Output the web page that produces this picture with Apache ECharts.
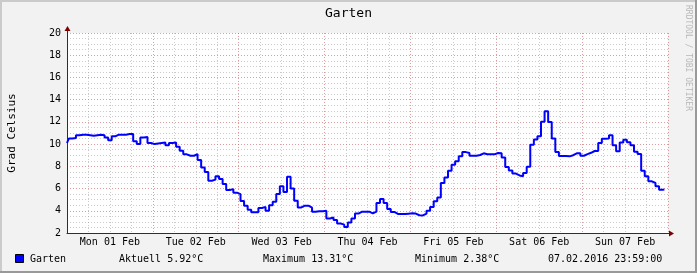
<!DOCTYPE html>
<html><head><meta charset="utf-8">
<script src="https://cdn.jsdelivr.net/npm/echarts@6/dist/echarts.min.js"></script>
<style>html,body{margin:0;padding:0;background:#F2F2F2}#c{width:697px;height:273px}</style>
</head><body><div id="c"></div>
<script>
const chartTitle = 'Garten';
const yAxisTitle = 'Grad Celsius';
const watermark = 'RRDTOOL / TOBI OETIKER';
const dayLabels = ['Mon 01 Feb','Tue 02 Feb','Wed 03 Feb','Thu 04 Feb','Fri 05 Feb','Sat 06 Feb','Sun 07 Feb'];
const seriesName = 'Garten';
const legendTexts = ['Aktuell 5.92°C','Maximum 13.31°C','Minimum 2.38°C'];
const timestampText = '07.02.2016 23:59:00';
const yMin = 2, yMax = 20, yStep = 2;
const hoursTotal = 168, hoursPerDay = 24;
// hourly temperature readings, starting Mon 01 Feb 2016 00:00
const temps = [
 10.1,10.5,10.55,10.8,10.85,10.85,10.8,10.75,10.8,10.85,10.8,10.6,
 10.35,10.7,10.85,10.85,10.85,10.9,10.9,10.25,10.0,10.6,10.65,10.1,
 10.0,10.05,10.1,10.15,9.9,10.1,10.15,9.77,9.4,9.08,8.95,8.95,
 9.1,8.57,7.9,7.5,6.7,6.8,7.1,6.85,6.4,5.87,5.95,5.63,
 5.5,4.88,4.45,4.1,3.86,3.86,4.25,4.35,4.0,4.5,4.82,5.5,
 6.2,5.7,7.07,6.0,4.9,4.3,4.46,4.46,4.28,3.92,3.95,3.95,
 4.0,3.3,3.4,3.17,2.85,2.75,2.55,2.95,3.3,3.75,3.92,3.92,
 3.92,3.77,3.92,4.7,5.06,4.7,4.15,3.9,3.72,3.71,3.71,3.74,
 3.77,3.75,3.6,3.58,3.75,4.0,4.35,4.85,5.2,6.5,7.0,7.6,
 8.15,8.45,8.9,9.28,9.2,8.96,8.96,9.02,9.17,9.08,9.08,9.08,
 9.2,9.17,8.8,7.95,7.62,7.35,7.18,7.1,7.4,7.97,9.95,10.42,
 10.7,12.02,12.95,12.0,10.5,9.3,8.93,8.93,8.9,9.0,9.17,9.17,
 8.95,9.1,9.22,9.38,9.38,10.1,10.48,10.5,10.8,9.9,9.35,10.15,
 10.4,10.16,9.9,9.32,9.1,7.6,7.1,6.65,6.5,6.2,5.9,5.92
];

const FONT = 'DejaVu Sans Mono';
const chart = echarts.init(document.getElementById('c'), null, {renderer:'canvas'});
const dotted = (c)=>({color:c, width:1, type:[1,2]});
const option = {
  backgroundColor:'#F2F2F2',
  animation:false,
  grid:{left:67,right:29,top:33,bottom:40,show:true,backgroundColor:'#FFFFFF',borderWidth:0},
  xAxis:[{
    type:'value',min:0,max:hoursTotal,interval:hoursPerDay,
    axisLine:{show:true,onZero:false,lineStyle:{color:'#3a2a2a',width:1}},
    axisTick:{show:false},
    axisLabel:{show:false},
    splitLine:{show:true,lineStyle:dotted('rgba(200,90,90,0.6)')},
    minorTick:{show:false,splitNumber:4},
    minorSplitLine:{show:true,lineStyle:dotted('rgba(140,140,140,0.45)')}
  },{
    type:'value',min:0,max:hoursTotal,interval:hoursPerDay/2,position:'bottom',
    axisLine:{show:false},axisTick:{show:false},splitLine:{show:false},
    axisLabel:{show:true,margin:4,color:'#000',fontFamily:FONT,fontSize:10,
      formatter:(v)=> (v % hoursPerDay === hoursPerDay/2) ? dayLabels[Math.floor(v/hoursPerDay)] : ''}
  }],
  yAxis:{
    type:'value',min:yMin,max:yMax,interval:yStep,
    axisLine:{show:true,onZero:false,lineStyle:{color:'#3a2a2a',width:1}},
    axisTick:{show:false},
    axisLabel:{show:true,margin:6,color:'#000',fontFamily:FONT,fontSize:10},
    splitLine:{show:true,lineStyle:dotted('rgba(200,90,90,0.6)')},
    minorTick:{show:false,splitNumber:4},
    minorSplitLine:{show:true,lineStyle:dotted('rgba(140,140,140,0.45)')}
  },
  series:[{
    name:seriesName,type:'line',xAxisIndex:0,step:'middle',showSymbol:false,
    data:temps.map((v,i)=>[i,v]),
    lineStyle:{color:'#0000FF',width:2},
    z:5
  }]
};
chart.setOption(option);

function decorate(){
  const W = 697, H = 273;
  const p0 = chart.convertToPixel({gridIndex:0},[0,yMin]);
  const p1 = chart.convertToPixel({gridIndex:0},[hoursTotal,yMax]);
  const x0 = Math.round(p0[0]), yb = Math.round(p0[1]), x1 = Math.round(p1[0]), yt = Math.round(p1[1]);
  const g = [
    // frame shading
    {type:'rect',shape:{x:0,y:0,width:W,height:2},style:{fill:'#CBCBCB'},silent:true},
    {type:'rect',shape:{x:0,y:0,width:2,height:H},style:{fill:'#CBCBCB'},silent:true},
    {type:'rect',shape:{x:0,y:H-2,width:W,height:2},style:{fill:'#999999'},silent:true},
    {type:'rect',shape:{x:W-2,y:0,width:2,height:H},style:{fill:'#999999'},silent:true},
    // axis extensions and arrows
    {type:'line',shape:{x1:x0+0.5,y1:yt,x2:x0+0.5,y2:yt-4},style:{stroke:'#3a2a2a',lineWidth:1},silent:true},
    {type:'polygon',shape:{points:[[x0+0.5,yt-7],[x0-2.5,yt-2],[x0+3.5,yt-2]]},style:{fill:'#7F0000'},silent:true},
    {type:'line',shape:{x1:x1,y1:yb+0.5,x2:x1+3,y2:yb+0.5},style:{stroke:'#3a2a2a',lineWidth:1},silent:true},
    {type:'polygon',shape:{points:[[x1+6,yb+0.5],[x1+1,yb-2.5],[x1+1,yb+3.5]]},style:{fill:'#7F0000'},silent:true},
    // title
    {type:'text',x:W/2,y:14,style:{text:chartTitle,font:'13px "'+FONT+'"',fill:'#000',align:'center',verticalAlign:'middle'},silent:true},
    // y axis title
    {type:'text',x:12,y:(yt+yb)/2,rotation:Math.PI/2,style:{text:yAxisTitle,font:'11px "'+FONT+'"',fill:'#000',align:'center',verticalAlign:'middle'},silent:true},
    // watermark
    {type:'text',x:688,y:5,rotation:-Math.PI/2,style:{text:watermark,font:'8px "'+FONT+'"',fill:'#B8B8B8',align:'left',verticalAlign:'middle'},silent:true},
    // legend
    {type:'rect',shape:{x:15.5,y:254.5,width:8,height:8},style:{fill:'#0000FF',stroke:'#000',lineWidth:1},silent:true},
    {type:'text',x:30,y:259,style:{text:seriesName,font:'10px "'+FONT+'"',fill:'#000',verticalAlign:'middle'},silent:true},
    {type:'text',x:119,y:259,style:{text:legendTexts[0],font:'10px "'+FONT+'"',fill:'#000',verticalAlign:'middle'},silent:true},
    {type:'text',x:263,y:259,style:{text:legendTexts[1],font:'10px "'+FONT+'"',fill:'#000',verticalAlign:'middle'},silent:true},
    {type:'text',x:415,y:259,style:{text:legendTexts[2],font:'10px "'+FONT+'"',fill:'#000',verticalAlign:'middle'},silent:true},
    {type:'text',x:548,y:259,style:{text:timestampText,font:'10px "'+FONT+'"',fill:'#000',verticalAlign:'middle'},silent:true}
  ];
  chart.setOption({graphic:g});
}
decorate();
</script>
</body></html>
